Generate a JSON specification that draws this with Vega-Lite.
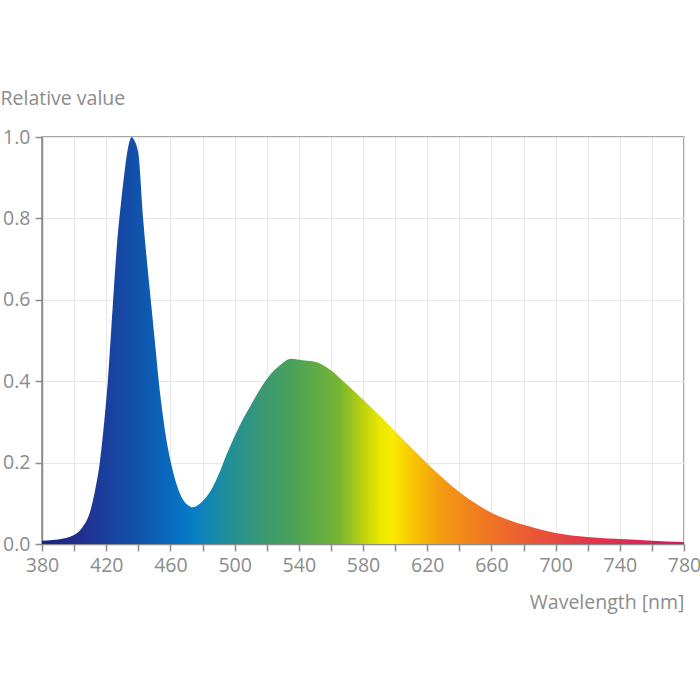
{
  "$schema": "https://vega.github.io/schema/vega-lite/v6.json",
  "width": 642,
  "height": 407,
  "autosize": "none",
  "padding": {"left": 42, "top": 137, "right": 16, "bottom": 156},
  "background": "white",
  "config": {
    "view": {"stroke": "#8c8c8c", "strokeWidth": 1.5},
    "font": "Open Sans",
    "axis": {
      "domainColor": "#8c8c8c",
      "domainWidth": 1.5,
      "tickColor": "#8c8c8c",
      "tickWidth": 1.5,
      "tickSize": 7,
      "gridColor": "#e8e8e8",
      "gridWidth": 1,
      "labelColor": "#8c8c8c",
      "labelFont": "Open Sans",
      "labelFontSize": 19.5,
      "titleColor": "#8c8c8c",
      "titleFont": "Open Sans",
      "titleFontSize": 19.5,
      "titleFontWeight": "normal"
    }
  },
  "data": {
    "values": [
      {"wavelength": 380, "value": 0.008},
      {"wavelength": 390, "value": 0.011},
      {"wavelength": 400, "value": 0.022},
      {"wavelength": 405, "value": 0.04},
      {"wavelength": 410, "value": 0.08},
      {"wavelength": 413, "value": 0.13},
      {"wavelength": 416, "value": 0.2},
      {"wavelength": 419, "value": 0.31},
      {"wavelength": 421, "value": 0.4},
      {"wavelength": 424, "value": 0.58},
      {"wavelength": 427, "value": 0.75},
      {"wavelength": 429, "value": 0.83},
      {"wavelength": 431, "value": 0.9},
      {"wavelength": 433, "value": 0.96},
      {"wavelength": 435, "value": 0.995},
      {"wavelength": 436, "value": 1.0},
      {"wavelength": 437, "value": 0.995},
      {"wavelength": 440, "value": 0.96},
      {"wavelength": 443, "value": 0.8},
      {"wavelength": 446, "value": 0.67},
      {"wavelength": 448, "value": 0.59},
      {"wavelength": 451, "value": 0.47},
      {"wavelength": 453, "value": 0.39},
      {"wavelength": 455, "value": 0.325},
      {"wavelength": 458, "value": 0.245},
      {"wavelength": 461, "value": 0.188},
      {"wavelength": 464, "value": 0.145},
      {"wavelength": 468, "value": 0.108},
      {"wavelength": 471, "value": 0.095},
      {"wavelength": 474, "value": 0.09},
      {"wavelength": 477, "value": 0.095},
      {"wavelength": 480, "value": 0.105},
      {"wavelength": 485, "value": 0.13},
      {"wavelength": 490, "value": 0.17},
      {"wavelength": 495, "value": 0.22},
      {"wavelength": 500, "value": 0.265},
      {"wavelength": 505, "value": 0.305},
      {"wavelength": 510, "value": 0.34},
      {"wavelength": 515, "value": 0.375},
      {"wavelength": 520, "value": 0.405},
      {"wavelength": 525, "value": 0.428},
      {"wavelength": 530, "value": 0.445},
      {"wavelength": 535, "value": 0.455},
      {"wavelength": 540, "value": 0.453},
      {"wavelength": 545, "value": 0.45},
      {"wavelength": 550, "value": 0.448},
      {"wavelength": 555, "value": 0.44},
      {"wavelength": 560, "value": 0.427},
      {"wavelength": 565, "value": 0.41},
      {"wavelength": 570, "value": 0.392},
      {"wavelength": 580, "value": 0.355},
      {"wavelength": 590, "value": 0.317},
      {"wavelength": 600, "value": 0.277},
      {"wavelength": 610, "value": 0.237},
      {"wavelength": 620, "value": 0.198},
      {"wavelength": 630, "value": 0.161},
      {"wavelength": 640, "value": 0.128},
      {"wavelength": 650, "value": 0.1},
      {"wavelength": 660, "value": 0.077},
      {"wavelength": 670, "value": 0.06},
      {"wavelength": 680, "value": 0.047},
      {"wavelength": 690, "value": 0.036},
      {"wavelength": 700, "value": 0.027},
      {"wavelength": 720, "value": 0.017},
      {"wavelength": 740, "value": 0.012},
      {"wavelength": 760, "value": 0.008},
      {"wavelength": 780, "value": 0.005}
    ]
  },
  "mark": {
    "type": "area",
    "interpolate": "monotone",
    "fill": {
      "gradient": "linear",
      "x1": 0, "y1": 0, "x2": 1, "y2": 0,
      "stops": [
        {"offset": 0.0, "color": "#1d2580"},
        {"offset": 0.05, "color": "#1e2c8a"},
        {"offset": 0.0775, "color": "#1e3696"},
        {"offset": 0.155, "color": "#0f55ae"},
        {"offset": 0.2175, "color": "#0574c4"},
        {"offset": 0.2375, "color": "#0a7ec4"},
        {"offset": 0.28, "color": "#1c8ca0"},
        {"offset": 0.3425, "color": "#3a9874"},
        {"offset": 0.4025, "color": "#50a452"},
        {"offset": 0.465, "color": "#78b632"},
        {"offset": 0.4975, "color": "#b8d010"},
        {"offset": 0.525, "color": "#e8e600"},
        {"offset": 0.54375, "color": "#f8ec00"},
        {"offset": 0.575, "color": "#f8c800"},
        {"offset": 0.6225, "color": "#f49a10"},
        {"offset": 0.685, "color": "#f07a20"},
        {"offset": 0.7575, "color": "#ea5a34"},
        {"offset": 0.84, "color": "#e43a48"},
        {"offset": 0.9125, "color": "#de2a52"},
        {"offset": 1.0, "color": "#d81860"}
      ]
    }
  },
  "encoding": {
    "x": {
      "field": "wavelength",
      "type": "quantitative",
      "scale": {"domain": [380, 780], "nice": false, "zero": false},
      "axis": {
        "values": [380, 400, 420, 440, 460, 480, 500, 520, 540, 560, 580, 600, 620, 640, 660, 680, 700, 720, 740, 760, 780],
        "labelExpr": "datum.value % 40 == 0 ? '' : datum.label",
        "labelPadding": 5,
        "labelOverlap": false,
        "labelFlush": false,
        "title": "Wavelength [nm]",
        "titleAlign": "right",
        "titleAnchor": "end",
        "titleX": 642,
        "titleY": 64,
        "titleBaseline": "alphabetic"
      }
    },
    "y": {
      "field": "value",
      "type": "quantitative",
      "scale": {"domain": [0, 1], "nice": false},
      "axis": {
        "values": [0, 0.2, 0.4, 0.6, 0.8, 1.0],
        "format": ".1f",
        "labelPadding": 5,
        "title": "Relative value",
        "titleAngle": 0,
        "titleAlign": "left",
        "titleX": -42,
        "titleY": -33,
        "titleBaseline": "alphabetic"
      }
    }
  }
}
